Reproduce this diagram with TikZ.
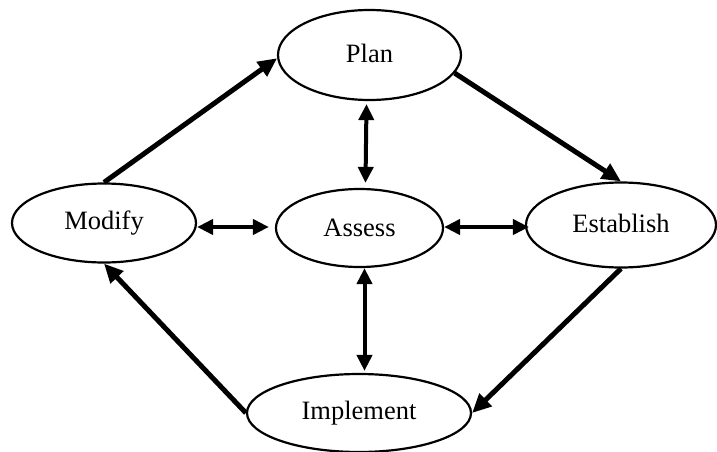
\documentclass[tikz,border=0pt]{standalone}
\usepackage{fontspec}
\setmainfont{Liberation Serif}
\usetikzlibrary{shapes.geometric,arrows.meta}
\begin{document}
\begin{tikzpicture}[x=1pt,y=-1pt,
  stage/.style={draw,ellipse,line width=2.2pt,inner sep=0pt,
    font=\fontsize{26.5}{30}\selectfont},
  flow/.style={line width=5pt,-{Triangle[length=19pt,width=17pt]}},
  link/.style={line width=4pt,{Triangle[length=16pt,width=15pt]}-{Triangle[length=16pt,width=15pt]}}]
\useasboundingbox (0,0) rectangle (717,452);
\node[stage,minimum width=183pt,minimum height=90pt] (plan) at (369.5,55) {\raisebox{3pt}{Plan}};
\node[stage,minimum width=184pt,minimum height=79pt] (modify) at (104,223) {Modify};
\node[stage,minimum width=167pt,minimum height=78pt] (assess) at (359.5,228) {Assess};
\node[stage,minimum width=190pt,minimum height=85pt] (establish) at (621,225) {\raisebox{3pt}{Establish}};
\node[stage,minimum width=224pt,minimum height=78pt] (implement) at (359,413) {Implement};
% cycle
\draw[flow] (modify.north) -- (plan.182);
\draw[flow] (plan.-12) -- (establish.north);
\draw[flow] (establish.south) -- (implement.east);
\draw[flow] (implement.west) -- (modify.south);
% links to assess
\draw[link] ([xshift=-3pt,yshift=-3pt]plan.south) -- ([xshift=6pt,yshift=5pt]assess.north);
\draw[link] ([xshift=5pt]assess.south) -- ([xshift=5pt,yshift=2pt]assess.south |- implement.north);
\draw[link] ([yshift=-4pt]modify.east) -- ([xshift=-6pt,yshift=1pt]assess.west);
\draw[link] ([yshift=1pt]assess.east) -- ([xshift=4pt,yshift=1pt]assess.east -| establish.west);
\end{tikzpicture}
\end{document}
